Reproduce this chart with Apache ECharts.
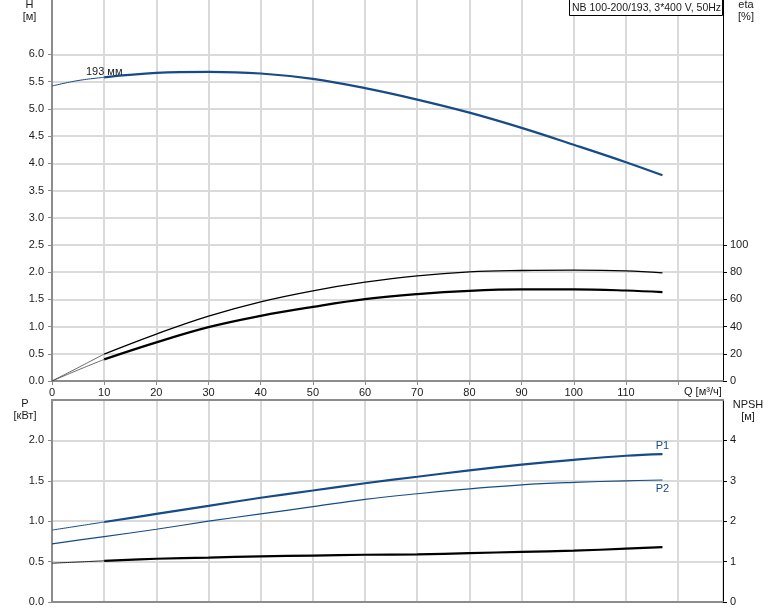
<!DOCTYPE html>
<html><head><meta charset="utf-8">
<script src="https://cdn.jsdelivr.net/npm/echarts@6/dist/echarts.min.js"></script>
<style>html,body{margin:0;padding:0;background:#fff}#c{width:774px;height:611px}</style>
</head><body><div id="c"></div>
<script>
// ---- data ----
const qLabels = [0,10,20,30,40,50,60,70,80,90,100,110];
const qTickVals = [0,10,20,30,40,50,60,70,80,90,100,110,120];
const hLabels = [0,0.5,1,1.5,2,2.5,3,3.5,4,4.5,5,5.5,6];
const etaLabels = [0,20,40,60,80,100];
const pLabels = [0,0.5,1,1.5,2];
const npshLabels = [0,1,2,3,4];

const qFlow    = [0,   5,    10,   20,   30,   40,   50,   60,   70,   80,   90,   100,  110,  117];
const headH    = [5.42,5.52, 5.58, 5.66, 5.68, 5.65, 5.55, 5.38, 5.17, 4.93, 4.65, 4.34, 4.02, 3.78];
const etaUpper = [0,   9.8,  19.8, 34.5, 47.7, 58.2, 66.3, 72.6, 77.3, 80.2, 81.2, 81.5, 81.0, 79.5];
const etaLower = [0,   8.1,  15.9, 28.4, 39.6, 47.9, 54.5, 60.2, 63.9, 66.3, 67.3, 67.3, 66.5, 65.3];
const powerP1  = [0.89,0.94, 0.99, 1.09, 1.19, 1.29, 1.38, 1.47, 1.55, 1.63, 1.70, 1.76, 1.81, 1.83];
const powerP2  = [0.72,0.765,0.81, 0.90, 1.00, 1.09, 1.18, 1.27, 1.34, 1.40, 1.45, 1.48, 1.50, 1.51];
const npshR    = [0.96,0.99, 1.02, 1.07, 1.10, 1.13, 1.15, 1.17, 1.18, 1.21, 1.24, 1.27, 1.32, 1.36];
const splitQ = 10;
const curveName = '193 мм';
const titleText = 'NB 100-200/193, 3*400 V, 50Hz';

// ---- helpers ----
const FONT = '"Liberation Sans", Arial, sans-serif';
const blue = '#164b88';
const txt = '#1a1a1a';
const gridCol = '#dadada';
const axisGrey = '#8c8c8c';
function seg(ys, thin){
  return qFlow.map((q,i)=>[q,ys[i]]).filter(p=> thin ? p[0]<=splitQ : p[0]>=splitQ);
}
function all(ys){ return qFlow.map((q,i)=>[q,ys[i]]); }
function line(name, data, xi, yi, color, width, extra){
  return Object.assign({type:'line', name, data, xAxisIndex:xi, yAxisIndex:yi, smooth:0.4,
    showSymbol:false, symbol:'none', animation:false, silent:true,
    lineStyle:{color, width}, itemStyle:{color}}, extra||{});
}
const withLabels = {showSymbol:true, symbol:'circle', symbolSize:0.01, label:{show:false}};
const lbl = {fontFamily:FONT, fontSize:11, color:txt};

// labelled points
const hThick = seg(headH,false).map((p,i)=> i===0 ? {value:p, label:{show:true, position:'top', distance:0, formatter:curveName, ...lbl}} : p);
const p1Thick = seg(powerP1,false);
p1Thick[p1Thick.length-1] = {value:p1Thick[p1Thick.length-1], label:{show:true, position:'top', distance:3, formatter:'P1', ...lbl, color:blue}};
const p2All = all(powerP2);
p2All[p2All.length-1] = {value:p2All[p2All.length-1], label:{show:true, position:'bottom', distance:3, formatter:'P2', ...lbl, color:blue}};

const xCommon = {type:'value', min:0, max:128.6, interval:10};
const chart = echarts.init(document.getElementById('c'), null, {renderer:'canvas'});
chart.setOption({
  animation:false,
  backgroundColor:'#fff',
  grid:[
    {left:52, top:0, width:671, height:381, containLabel:false},
    {left:52, top:400, width:671, height:202, containLabel:false}
  ],
  xAxis:[
    Object.assign({}, xCommon, {gridIndex:0, position:'bottom',
      axisLine:{show:true, onZero:false, lineStyle:{color:axisGrey, width:2}},
      axisTick:{show:true, customValues:qTickVals, length:4, lineStyle:{color:axisGrey}},
      axisLabel:{customValues:qLabels, margin:6, ...lbl},
      splitLine:{show:true, lineStyle:{color:gridCol, width:2}}}),
    Object.assign({}, xCommon, {gridIndex:1, position:'bottom',
      axisLine:{show:true, onZero:false, lineStyle:{color:axisGrey, width:2}},
      axisTick:{show:false}, axisLabel:{show:false},
      splitLine:{show:true, lineStyle:{color:gridCol, width:2}}}),
    Object.assign({}, xCommon, {gridIndex:1, position:'top',
      axisLine:{show:true, onZero:false, lineStyle:{color:axisGrey, width:2}},
      axisTick:{show:false}, axisLabel:{show:false}, splitLine:{show:false}})
  ],
  yAxis:[
    {gridIndex:0, type:'value', position:'left', min:0, max:7, interval:0.5,
      axisLine:{show:true, onZero:false, lineStyle:{color:axisGrey, width:2}},
      axisTick:{show:true, customValues:hLabels, length:4, lineStyle:{color:axisGrey}},
      axisLabel:{customValues:hLabels, margin:8, formatter:v=>Number(v).toFixed(1), ...lbl},
      splitLine:{show:true, lineStyle:{color:gridCol, width:2}}},
    {gridIndex:0, type:'value', position:'right', min:0, max:280, interval:20,
      axisLine:{show:true, onZero:false, lineStyle:{color:'#000', width:1}},
      axisTick:{show:true, customValues:etaLabels, length:4, lineStyle:{color:'#000'}},
      axisLabel:{customValues:etaLabels, margin:7, ...lbl},
      splitLine:{show:false}},
    {gridIndex:1, type:'value', position:'left', min:0, max:2.5, interval:0.5,
      axisLine:{show:true, onZero:false, lineStyle:{color:axisGrey, width:2}},
      axisTick:{show:true, customValues:pLabels, length:4, lineStyle:{color:axisGrey}},
      axisLabel:{customValues:pLabels, margin:8, formatter:v=>Number(v).toFixed(1), ...lbl},
      splitLine:{show:true, lineStyle:{color:gridCol, width:2}}},
    {gridIndex:1, type:'value', position:'right', min:0, max:5, interval:1,
      axisLine:{show:true, onZero:false, lineStyle:{color:'#000', width:1}},
      axisTick:{show:true, customValues:npshLabels, length:4, lineStyle:{color:'#000'}},
      axisLabel:{customValues:npshLabels, margin:7, ...lbl},
      splitLine:{show:false}}
  ],
  series:[
    line('H thin', seg(headH,true), 0, 0, blue, 1),
    line('H', hThick, 0, 0, blue, 2.2, withLabels),
    line('eta1 thin', seg(etaUpper,true), 0, 1, '#444', 0.8),
    line('eta1', seg(etaUpper,false), 0, 1, '#000', 1.3),
    line('eta2 thin', seg(etaLower,true), 0, 1, '#444', 0.8),
    line('eta2', seg(etaLower,false), 0, 1, '#000', 2.2),
    line('P1 thin', seg(powerP1,true), 1, 2, blue, 1),
    line('P1', p1Thick, 1, 2, blue, 2.2, withLabels),
    line('P2', p2All, 1, 2, blue, 1.2, withLabels),
    line('NPSH thin', seg(npshR,true), 1, 3, '#222', 1),
    line('NPSH', seg(npshR,false), 1, 3, '#000', 2.2)
  ],
  graphic:[
    {type:'rect', shape:{x:569.5, y:-0.5, width:153, height:16}, style:{fill:'#fff', stroke:'#000', lineWidth:1}, z:100},
    {type:'text', x:572, y:8, style:{text:titleText, font:'10.5px '+FONT, fill:txt, verticalAlign:'middle'}, z:101},
    {type:'text', x:29.5, y:5, style:{text:'H', font:'11px '+FONT, fill:txt, align:'center', verticalAlign:'middle'}},
    {type:'text', x:29.5, y:17, style:{text:'[м]', font:'11px '+FONT, fill:txt, align:'center', verticalAlign:'middle'}},
    {type:'text', x:746, y:5, style:{text:'eta', font:'11px '+FONT, fill:txt, align:'center', verticalAlign:'middle'}},
    {type:'text', x:746, y:17, style:{text:'[%]', font:'11px '+FONT, fill:txt, align:'center', verticalAlign:'middle'}},
    {type:'text', x:25, y:404, style:{text:'P', font:'11px '+FONT, fill:txt, align:'center', verticalAlign:'middle'}},
    {type:'text', x:25, y:416, style:{text:'[кВт]', font:'11px '+FONT, fill:txt, align:'center', verticalAlign:'middle'}},
    {type:'text', x:748, y:405, style:{text:'NPSH', font:'11px '+FONT, fill:txt, align:'center', verticalAlign:'middle'}},
    {type:'text', x:748, y:417, style:{text:'[м]', font:'11px '+FONT, fill:txt, align:'center', verticalAlign:'middle'}},
    {type:'text', x:684, y:392, style:{text:'Q [м³/ч]', font:'11px '+FONT, fill:txt, align:'left', verticalAlign:'middle'}}
  ]
});
</script></body></html>
